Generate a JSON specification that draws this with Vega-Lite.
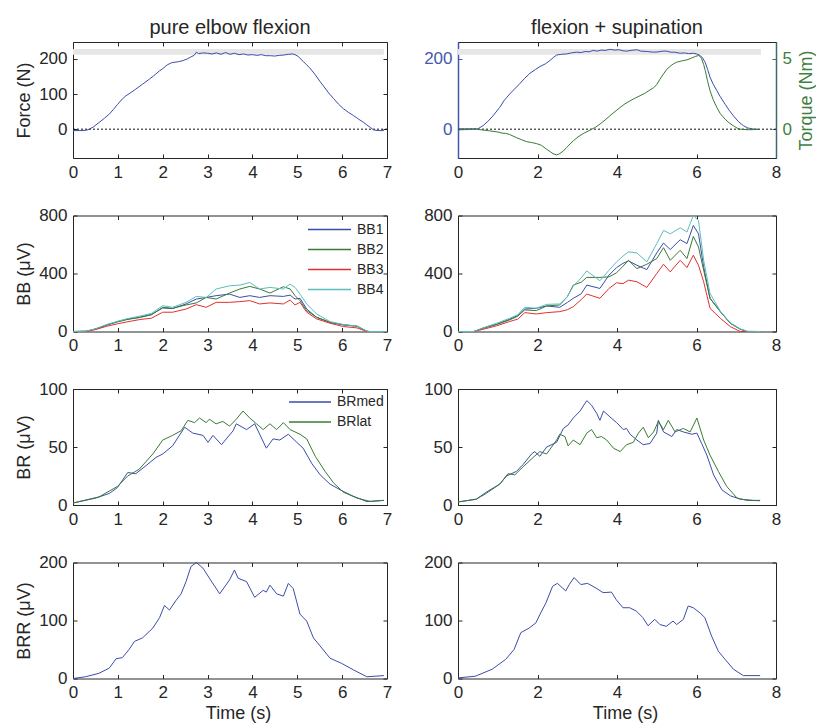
{
"$schema": "https://vega.github.io/schema/vega-lite/v6.json",
"background": "white",
"padding": {"left": 15, "top": 17, "right": 2, "bottom": 2},
"columns": 2,
"spacing": {"row": 57.5, "column": 71},
"bounds": "flush",
"resolve": {"scale": {"color": "independent"}, "legend": {"color": "independent"}},
"datasets": {
"bandL": [{"a": 0, "b": 6.93, "lo": 212, "hi": 228}],
"bandR": [{"a": 0, "b": 7.62, "lo": 212, "hi": 228}],
"fL": [{"t":0,"v":-4},{"t":0.2,"v":-4},{"t":0.3,"v":-3},{"t":0.36,"v":0},{"t":0.45,"v":6},{"t":0.58,"v":19},{"t":0.7,"v":31},{"t":0.81,"v":43},{"t":0.9,"v":56},{"t":0.99,"v":70},{"t":1.1,"v":86},{"t":1.18,"v":95},{"t":1.3,"v":105},{"t":1.4,"v":114},{"t":1.55,"v":128},{"t":1.7,"v":142},{"t":1.8,"v":152},{"t":1.93,"v":166},{"t":2.0,"v":172},{"t":2.1,"v":183},{"t":2.2,"v":189},{"t":2.35,"v":192},{"t":2.45,"v":195},{"t":2.55,"v":200},{"t":2.62,"v":205},{"t":2.7,"v":210},{"t":2.75,"v":219},{"t":2.8,"v":215},{"t":2.9,"v":217},{"t":3.0,"v":216},{"t":3.1,"v":214},{"t":3.2,"v":217},{"t":3.3,"v":213},{"t":3.4,"v":218},{"t":3.5,"v":213},{"t":3.6,"v":216},{"t":3.7,"v":212},{"t":3.8,"v":214},{"t":3.9,"v":211},{"t":4.0,"v":212},{"t":4.1,"v":210},{"t":4.2,"v":212},{"t":4.3,"v":209},{"t":4.4,"v":209},{"t":4.5,"v":208},{"t":4.6,"v":210},{"t":4.7,"v":211},{"t":4.8,"v":213},{"t":4.9,"v":214},{"t":4.95,"v":212},{"t":5.02,"v":207},{"t":5.13,"v":193},{"t":5.2,"v":184},{"t":5.28,"v":174},{"t":5.4,"v":155},{"t":5.51,"v":135},{"t":5.6,"v":120},{"t":5.7,"v":103},{"t":5.81,"v":87},{"t":5.92,"v":71},{"t":6.03,"v":58},{"t":6.15,"v":47},{"t":6.25,"v":39},{"t":6.35,"v":30},{"t":6.48,"v":19},{"t":6.55,"v":12},{"t":6.63,"v":5},{"t":6.7,"v":-2},{"t":6.8,"v":-4},{"t":6.93,"v":-4}],
"fR": [{"t":0,"v":1},{"t":0.3,"v":1},{"t":0.5,"v":1},{"t":0.63,"v":10},{"t":0.75,"v":22},{"t":0.88,"v":38},{"t":1.05,"v":62},{"t":1.15,"v":80},{"t":1.3,"v":100},{"t":1.42,"v":114},{"t":1.55,"v":129},{"t":1.68,"v":145},{"t":1.81,"v":159},{"t":1.95,"v":170},{"t":2.06,"v":178},{"t":2.2,"v":186},{"t":2.31,"v":195},{"t":2.4,"v":204},{"t":2.48,"v":211},{"t":2.6,"v":213},{"t":2.73,"v":214},{"t":2.85,"v":217},{"t":2.98,"v":219},{"t":3.1,"v":218},{"t":3.2,"v":221},{"t":3.3,"v":220},{"t":3.4,"v":224},{"t":3.5,"v":222},{"t":3.6,"v":225},{"t":3.7,"v":224},{"t":3.82,"v":227},{"t":3.95,"v":225},{"t":4.05,"v":226},{"t":4.15,"v":223},{"t":4.24,"v":222},{"t":4.35,"v":224},{"t":4.5,"v":226},{"t":4.6,"v":222},{"t":4.75,"v":221},{"t":4.92,"v":219},{"t":5.05,"v":220},{"t":5.15,"v":222},{"t":5.25,"v":222},{"t":5.35,"v":219},{"t":5.45,"v":219},{"t":5.59,"v":216},{"t":5.7,"v":217},{"t":5.8,"v":215},{"t":5.92,"v":216},{"t":6.0,"v":214},{"t":6.09,"v":210},{"t":6.15,"v":203},{"t":6.22,"v":190},{"t":6.28,"v":170},{"t":6.34,"v":148},{"t":6.42,"v":128},{"t":6.51,"v":110},{"t":6.6,"v":92},{"t":6.72,"v":71},{"t":6.82,"v":54},{"t":6.93,"v":38},{"t":7.05,"v":22},{"t":7.18,"v":10},{"t":7.28,"v":4},{"t":7.35,"v":2},{"t":7.45,"v":0},{"t":7.56,"v":0}],
"tq": [{"t":0,"q":-0.05},{"t":0.46,"q":0},{"t":0.8,"q":-0.12},{"t":1.0,"q":-0.2},{"t":1.13,"q":-0.29},{"t":1.2,"q":-0.3},{"t":1.3,"q":-0.38},{"t":1.47,"q":-0.6},{"t":1.6,"q":-0.75},{"t":1.72,"q":-0.88},{"t":1.85,"q":-0.95},{"t":1.97,"q":-1.02},{"t":2.1,"q":-1.15},{"t":2.23,"q":-1.43},{"t":2.32,"q":-1.6},{"t":2.39,"q":-1.74},{"t":2.48,"q":-1.83},{"t":2.56,"q":-1.74},{"t":2.65,"q":-1.55},{"t":2.73,"q":-1.31},{"t":2.82,"q":-1.05},{"t":2.9,"q":-0.83},{"t":3.02,"q":-0.55},{"t":3.15,"q":-0.31},{"t":3.32,"q":-0.07},{"t":3.45,"q":0.12},{"t":3.57,"q":0.36},{"t":3.7,"q":0.65},{"t":3.82,"q":0.95},{"t":3.95,"q":1.25},{"t":4.08,"q":1.55},{"t":4.2,"q":1.8},{"t":4.33,"q":2.02},{"t":4.45,"q":2.2},{"t":4.58,"q":2.38},{"t":4.7,"q":2.55},{"t":4.83,"q":2.79},{"t":4.92,"q":2.95},{"t":5.0,"q":3.17},{"t":5.08,"q":3.55},{"t":5.17,"q":3.93},{"t":5.25,"q":4.25},{"t":5.34,"q":4.48},{"t":5.42,"q":4.65},{"t":5.5,"q":4.76},{"t":5.62,"q":4.85},{"t":5.76,"q":4.93},{"t":5.87,"q":5.05},{"t":5.97,"q":5.17},{"t":6.05,"q":5.24},{"t":6.1,"q":5.15},{"t":6.13,"q":5.0},{"t":6.18,"q":4.6},{"t":6.22,"q":4.17},{"t":6.28,"q":3.4},{"t":6.34,"q":2.74},{"t":6.42,"q":2.1},{"t":6.51,"q":1.55},{"t":6.6,"q":1.1},{"t":6.72,"q":0.71},{"t":6.82,"q":0.45},{"t":6.93,"q":0.24},{"t":7.02,"q":0.08},{"t":7.1,"q":0},{"t":7.3,"q":-0.04},{"t":7.56,"q":-0.02}],
"bbL": [
{"t":0,"v":0,"s":"BB1"},{"t":0.3,"v":2,"s":"BB1"},{"t":0.51,"v":18,"s":"BB1"},{"t":0.75,"v":45,"s":"BB1"},{"t":0.99,"v":68,"s":"BB1"},{"t":1.2,"v":85,"s":"BB1"},{"t":1.48,"v":98,"s":"BB1"},{"t":1.75,"v":118,"s":"BB1"},{"t":2.0,"v":162,"s":"BB1"},{"t":2.22,"v":158,"s":"BB1"},{"t":2.52,"v":190,"s":"BB1"},{"t":2.75,"v":224,"s":"BB1"},{"t":2.97,"v":235,"s":"BB1"},{"t":3.19,"v":247,"s":"BB1"},{"t":3.49,"v":258,"s":"BB1"},{"t":3.72,"v":235,"s":"BB1"},{"t":3.94,"v":247,"s":"BB1"},{"t":4.16,"v":235,"s":"BB1"},{"t":4.39,"v":247,"s":"BB1"},{"t":4.69,"v":242,"s":"BB1"},{"t":4.84,"v":251,"s":"BB1"},{"t":4.95,"v":224,"s":"BB1"},{"t":5.06,"v":229,"s":"BB1"},{"t":5.21,"v":155,"s":"BB1"},{"t":5.43,"v":98,"s":"BB1"},{"t":5.73,"v":64,"s":"BB1"},{"t":6.03,"v":46,"s":"BB1"},{"t":6.33,"v":37,"s":"BB1"},{"t":6.55,"v":2,"s":"BB1"},{"t":6.6,"v":0,"s":"BB1"},{"t":7.0,"v":0,"s":"BB1"},
{"t":0,"v":0,"s":"BB2"},{"t":0.3,"v":2,"s":"BB2"},{"t":0.51,"v":18,"s":"BB2"},{"t":0.75,"v":44,"s":"BB2"},{"t":0.99,"v":66,"s":"BB2"},{"t":1.2,"v":82,"s":"BB2"},{"t":1.48,"v":96,"s":"BB2"},{"t":1.75,"v":115,"s":"BB2"},{"t":2.0,"v":167,"s":"BB2"},{"t":2.22,"v":160,"s":"BB2"},{"t":2.52,"v":183,"s":"BB2"},{"t":2.75,"v":197,"s":"BB2"},{"t":2.97,"v":235,"s":"BB2"},{"t":3.19,"v":224,"s":"BB2"},{"t":3.49,"v":265,"s":"BB2"},{"t":3.72,"v":293,"s":"BB2"},{"t":3.94,"v":311,"s":"BB2"},{"t":4.16,"v":293,"s":"BB2"},{"t":4.39,"v":265,"s":"BB2"},{"t":4.69,"v":309,"s":"BB2"},{"t":4.84,"v":293,"s":"BB2"},{"t":4.95,"v":247,"s":"BB2"},{"t":5.06,"v":213,"s":"BB2"},{"t":5.21,"v":144,"s":"BB2"},{"t":5.43,"v":98,"s":"BB2"},{"t":5.73,"v":62,"s":"BB2"},{"t":6.03,"v":45,"s":"BB2"},{"t":6.33,"v":36,"s":"BB2"},{"t":6.55,"v":2,"s":"BB2"},{"t":6.6,"v":0,"s":"BB2"},{"t":7.0,"v":0,"s":"BB2"},
{"t":0,"v":0,"s":"BB3"},{"t":0.3,"v":0,"s":"BB3"},{"t":0.51,"v":14,"s":"BB3"},{"t":0.75,"v":36,"s":"BB3"},{"t":0.99,"v":53,"s":"BB3"},{"t":1.2,"v":66,"s":"BB3"},{"t":1.48,"v":82,"s":"BB3"},{"t":1.75,"v":92,"s":"BB3"},{"t":2.0,"v":133,"s":"BB3"},{"t":2.22,"v":133,"s":"BB3"},{"t":2.52,"v":155,"s":"BB3"},{"t":2.75,"v":185,"s":"BB3"},{"t":2.97,"v":167,"s":"BB3"},{"t":3.19,"v":201,"s":"BB3"},{"t":3.49,"v":201,"s":"BB3"},{"t":3.72,"v":206,"s":"BB3"},{"t":3.94,"v":213,"s":"BB3"},{"t":4.16,"v":190,"s":"BB3"},{"t":4.39,"v":197,"s":"BB3"},{"t":4.69,"v":190,"s":"BB3"},{"t":4.84,"v":217,"s":"BB3"},{"t":4.95,"v":183,"s":"BB3"},{"t":5.06,"v":201,"s":"BB3"},{"t":5.21,"v":133,"s":"BB3"},{"t":5.43,"v":87,"s":"BB3"},{"t":5.73,"v":57,"s":"BB3"},{"t":6.03,"v":34,"s":"BB3"},{"t":6.33,"v":25,"s":"BB3"},{"t":6.55,"v":0,"s":"BB3"},{"t":6.6,"v":0,"s":"BB3"},{"t":7.0,"v":0,"s":"BB3"},
{"t":0,"v":0,"s":"BB4"},{"t":0.3,"v":2,"s":"BB4"},{"t":0.51,"v":20,"s":"BB4"},{"t":0.75,"v":48,"s":"BB4"},{"t":0.99,"v":70,"s":"BB4"},{"t":1.2,"v":88,"s":"BB4"},{"t":1.48,"v":105,"s":"BB4"},{"t":1.75,"v":125,"s":"BB4"},{"t":2.0,"v":178,"s":"BB4"},{"t":2.22,"v":167,"s":"BB4"},{"t":2.52,"v":201,"s":"BB4"},{"t":2.75,"v":242,"s":"BB4"},{"t":2.97,"v":235,"s":"BB4"},{"t":3.19,"v":293,"s":"BB4"},{"t":3.49,"v":315,"s":"BB4"},{"t":3.72,"v":320,"s":"BB4"},{"t":3.94,"v":338,"s":"BB4"},{"t":4.16,"v":293,"s":"BB4"},{"t":4.39,"v":304,"s":"BB4"},{"t":4.69,"v":293,"s":"BB4"},{"t":4.84,"v":327,"s":"BB4"},{"t":4.95,"v":304,"s":"BB4"},{"t":5.06,"v":258,"s":"BB4"},{"t":5.21,"v":190,"s":"BB4"},{"t":5.43,"v":121,"s":"BB4"},{"t":5.73,"v":68,"s":"BB4"},{"t":6.03,"v":48,"s":"BB4"},{"t":6.33,"v":38,"s":"BB4"},{"t":6.55,"v":3,"s":"BB4"},{"t":6.6,"v":0,"s":"BB4"},{"t":7.0,"v":0,"s":"BB4"}],
"bbR": [
{"t":0,"v":0,"s":"BB1"},{"t":0.4,"v":0,"s":"BB1"},{"t":0.63,"v":23,"s":"BB1"},{"t":0.97,"v":50,"s":"BB1"},{"t":1.3,"v":85,"s":"BB1"},{"t":1.5,"v":110,"s":"BB1"},{"t":1.68,"v":155,"s":"BB1"},{"t":1.97,"v":160,"s":"BB1"},{"t":2.23,"v":176,"s":"BB1"},{"t":2.56,"v":167,"s":"BB1"},{"t":2.75,"v":200,"s":"BB1"},{"t":2.9,"v":229,"s":"BB1"},{"t":3.1,"v":260,"s":"BB1"},{"t":3.24,"v":320,"s":"BB1"},{"t":3.57,"v":297,"s":"BB1"},{"t":3.8,"v":389,"s":"BB1"},{"t":3.99,"v":441,"s":"BB1"},{"t":4.15,"v":470,"s":"BB1"},{"t":4.29,"v":487,"s":"BB1"},{"t":4.5,"v":457,"s":"BB1"},{"t":4.75,"v":427,"s":"BB1"},{"t":5.0,"v":542,"s":"BB1"},{"t":5.17,"v":610,"s":"BB1"},{"t":5.34,"v":565,"s":"BB1"},{"t":5.59,"v":633,"s":"BB1"},{"t":5.76,"v":606,"s":"BB1"},{"t":5.92,"v":731,"s":"BB1"},{"t":6.05,"v":674,"s":"BB1"},{"t":6.18,"v":446,"s":"BB1"},{"t":6.34,"v":229,"s":"BB1"},{"t":6.6,"v":137,"s":"BB1"},{"t":6.85,"v":57,"s":"BB1"},{"t":7.1,"v":16,"s":"BB1"},{"t":7.27,"v":0,"s":"BB1"},{"t":7.6,"v":0,"s":"BB1"},
{"t":0,"v":0,"s":"BB2"},{"t":0.4,"v":0,"s":"BB2"},{"t":0.63,"v":23,"s":"BB2"},{"t":0.97,"v":48,"s":"BB2"},{"t":1.3,"v":80,"s":"BB2"},{"t":1.5,"v":105,"s":"BB2"},{"t":1.68,"v":149,"s":"BB2"},{"t":1.97,"v":144,"s":"BB2"},{"t":2.23,"v":176,"s":"BB2"},{"t":2.56,"v":183,"s":"BB2"},{"t":2.75,"v":240,"s":"BB2"},{"t":2.9,"v":320,"s":"BB2"},{"t":3.1,"v":340,"s":"BB2"},{"t":3.24,"v":373,"s":"BB2"},{"t":3.57,"v":373,"s":"BB2"},{"t":3.8,"v":377,"s":"BB2"},{"t":3.99,"v":405,"s":"BB2"},{"t":4.15,"v":450,"s":"BB2"},{"t":4.29,"v":491,"s":"BB2"},{"t":4.5,"v":434,"s":"BB2"},{"t":4.75,"v":464,"s":"BB2"},{"t":5.0,"v":503,"s":"BB2"},{"t":5.17,"v":578,"s":"BB2"},{"t":5.34,"v":491,"s":"BB2"},{"t":5.59,"v":560,"s":"BB2"},{"t":5.76,"v":503,"s":"BB2"},{"t":5.92,"v":656,"s":"BB2"},{"t":6.05,"v":583,"s":"BB2"},{"t":6.18,"v":423,"s":"BB2"},{"t":6.34,"v":229,"s":"BB2"},{"t":6.6,"v":137,"s":"BB2"},{"t":6.85,"v":57,"s":"BB2"},{"t":7.1,"v":16,"s":"BB2"},{"t":7.27,"v":0,"s":"BB2"},{"t":7.6,"v":0,"s":"BB2"},
{"t":0,"v":0,"s":"BB3"},{"t":0.4,"v":0,"s":"BB3"},{"t":0.63,"v":15,"s":"BB3"},{"t":0.97,"v":39,"s":"BB3"},{"t":1.3,"v":69,"s":"BB3"},{"t":1.5,"v":85,"s":"BB3"},{"t":1.68,"v":130,"s":"BB3"},{"t":1.97,"v":121,"s":"BB3"},{"t":2.23,"v":130,"s":"BB3"},{"t":2.56,"v":137,"s":"BB3"},{"t":2.75,"v":150,"s":"BB3"},{"t":2.9,"v":171,"s":"BB3"},{"t":3.1,"v":220,"s":"BB3"},{"t":3.24,"v":258,"s":"BB3"},{"t":3.57,"v":229,"s":"BB3"},{"t":3.8,"v":297,"s":"BB3"},{"t":3.99,"v":336,"s":"BB3"},{"t":4.15,"v":330,"s":"BB3"},{"t":4.29,"v":354,"s":"BB3"},{"t":4.5,"v":343,"s":"BB3"},{"t":4.75,"v":304,"s":"BB3"},{"t":5.0,"v":400,"s":"BB3"},{"t":5.17,"v":464,"s":"BB3"},{"t":5.34,"v":411,"s":"BB3"},{"t":5.59,"v":491,"s":"BB3"},{"t":5.76,"v":441,"s":"BB3"},{"t":5.92,"v":526,"s":"BB3"},{"t":6.05,"v":457,"s":"BB3"},{"t":6.18,"v":343,"s":"BB3"},{"t":6.34,"v":160,"s":"BB3"},{"t":6.6,"v":91,"s":"BB3"},{"t":6.85,"v":34,"s":"BB3"},{"t":7.1,"v":0,"s":"BB3"},{"t":7.27,"v":0,"s":"BB3"},{"t":7.6,"v":0,"s":"BB3"},
{"t":0,"v":0,"s":"BB4"},{"t":0.4,"v":0,"s":"BB4"},{"t":0.63,"v":25,"s":"BB4"},{"t":0.97,"v":57,"s":"BB4"},{"t":1.3,"v":91,"s":"BB4"},{"t":1.5,"v":115,"s":"BB4"},{"t":1.68,"v":167,"s":"BB4"},{"t":1.97,"v":160,"s":"BB4"},{"t":2.23,"v":187,"s":"BB4"},{"t":2.56,"v":190,"s":"BB4"},{"t":2.75,"v":240,"s":"BB4"},{"t":2.9,"v":313,"s":"BB4"},{"t":3.1,"v":370,"s":"BB4"},{"t":3.24,"v":418,"s":"BB4"},{"t":3.57,"v":350,"s":"BB4"},{"t":3.8,"v":423,"s":"BB4"},{"t":3.99,"v":480,"s":"BB4"},{"t":4.15,"v":520,"s":"BB4"},{"t":4.29,"v":549,"s":"BB4"},{"t":4.5,"v":542,"s":"BB4"},{"t":4.75,"v":480,"s":"BB4"},{"t":5.0,"v":606,"s":"BB4"},{"t":5.17,"v":697,"s":"BB4"},{"t":5.34,"v":674,"s":"BB4"},{"t":5.59,"v":715,"s":"BB4"},{"t":5.76,"v":686,"s":"BB4"},{"t":5.92,"v":800,"s":"BB4"},{"t":6.05,"v":766,"s":"BB4"},{"t":6.18,"v":491,"s":"BB4"},{"t":6.34,"v":263,"s":"BB4"},{"t":6.6,"v":140,"s":"BB4"},{"t":6.85,"v":60,"s":"BB4"},{"t":7.1,"v":18,"s":"BB4"},{"t":7.27,"v":2,"s":"BB4"},{"t":7.6,"v":0,"s":"BB4"}],
"brL": [
{"t":0,"v":1.7,"s":"BRmed"},{"t":0.51,"v":6,"s":"BRmed"},{"t":0.81,"v":10,"s":"BRmed"},{"t":0.99,"v":15,"s":"BRmed"},{"t":1.22,"v":28,"s":"BRmed"},{"t":1.4,"v":27,"s":"BRmed"},{"t":1.63,"v":34,"s":"BRmed"},{"t":1.85,"v":41,"s":"BRmed"},{"t":2.0,"v":44,"s":"BRmed"},{"t":2.22,"v":51,"s":"BRmed"},{"t":2.49,"v":67,"s":"BRmed"},{"t":2.67,"v":62,"s":"BRmed"},{"t":2.9,"v":60,"s":"BRmed"},{"t":3.01,"v":54,"s":"BRmed"},{"t":3.12,"v":60,"s":"BRmed"},{"t":3.31,"v":52,"s":"BRmed"},{"t":3.57,"v":64,"s":"BRmed"},{"t":3.64,"v":70,"s":"BRmed"},{"t":3.87,"v":65,"s":"BRmed"},{"t":4.05,"v":70,"s":"BRmed"},{"t":4.31,"v":49,"s":"BRmed"},{"t":4.46,"v":57,"s":"BRmed"},{"t":4.61,"v":56,"s":"BRmed"},{"t":4.8,"v":61,"s":"BRmed"},{"t":4.99,"v":54,"s":"BRmed"},{"t":5.13,"v":49,"s":"BRmed"},{"t":5.32,"v":36,"s":"BRmed"},{"t":5.51,"v":26,"s":"BRmed"},{"t":5.73,"v":18,"s":"BRmed"},{"t":5.96,"v":13,"s":"BRmed"},{"t":6.25,"v":7.5,"s":"BRmed"},{"t":6.55,"v":3,"s":"BRmed"},{"t":6.93,"v":4,"s":"BRmed"},
{"t":0,"v":1.7,"s":"BRlat"},{"t":0.58,"v":7,"s":"BRlat"},{"t":0.99,"v":16,"s":"BRlat"},{"t":1.22,"v":25,"s":"BRlat"},{"t":1.48,"v":31,"s":"BRlat"},{"t":1.78,"v":44,"s":"BRlat"},{"t":2.0,"v":56,"s":"BRlat"},{"t":2.22,"v":60,"s":"BRlat"},{"t":2.41,"v":64,"s":"BRlat"},{"t":2.56,"v":73,"s":"BRlat"},{"t":2.71,"v":71,"s":"BRlat"},{"t":2.82,"v":75,"s":"BRlat"},{"t":2.97,"v":71,"s":"BRlat"},{"t":3.04,"v":74,"s":"BRlat"},{"t":3.19,"v":70,"s":"BRlat"},{"t":3.34,"v":72,"s":"BRlat"},{"t":3.49,"v":68,"s":"BRlat"},{"t":3.64,"v":74,"s":"BRlat"},{"t":3.79,"v":81,"s":"BRlat"},{"t":3.94,"v":75,"s":"BRlat"},{"t":4.09,"v":70,"s":"BRlat"},{"t":4.24,"v":65,"s":"BRlat"},{"t":4.39,"v":70,"s":"BRlat"},{"t":4.54,"v":65,"s":"BRlat"},{"t":4.69,"v":71,"s":"BRlat"},{"t":4.84,"v":65,"s":"BRlat"},{"t":5.06,"v":61,"s":"BRlat"},{"t":5.21,"v":57,"s":"BRlat"},{"t":5.4,"v":42,"s":"BRlat"},{"t":5.62,"v":29,"s":"BRlat"},{"t":5.81,"v":19,"s":"BRlat"},{"t":6.03,"v":11,"s":"BRlat"},{"t":6.33,"v":6,"s":"BRlat"},{"t":6.63,"v":3,"s":"BRlat"},{"t":6.93,"v":4,"s":"BRlat"}],
"brR": [
{"t":0,"v":2.6,"s":"BRmed"},{"t":0.46,"v":5,"s":"BRmed"},{"t":0.71,"v":11,"s":"BRmed"},{"t":1.05,"v":18,"s":"BRmed"},{"t":1.22,"v":25,"s":"BRmed"},{"t":1.47,"v":29,"s":"BRmed"},{"t":1.64,"v":35,"s":"BRmed"},{"t":1.85,"v":44,"s":"BRmed"},{"t":1.93,"v":46,"s":"BRmed"},{"t":2.06,"v":42,"s":"BRmed"},{"t":2.23,"v":50,"s":"BRmed"},{"t":2.48,"v":54,"s":"BRmed"},{"t":2.65,"v":66,"s":"BRmed"},{"t":2.77,"v":69,"s":"BRmed"},{"t":2.9,"v":75,"s":"BRmed"},{"t":3.07,"v":81,"s":"BRmed"},{"t":3.24,"v":90,"s":"BRmed"},{"t":3.36,"v":86,"s":"BRmed"},{"t":3.49,"v":79,"s":"BRmed"},{"t":3.57,"v":73,"s":"BRmed"},{"t":3.66,"v":81,"s":"BRmed"},{"t":3.82,"v":76,"s":"BRmed"},{"t":3.99,"v":71,"s":"BRmed"},{"t":4.16,"v":65,"s":"BRmed"},{"t":4.24,"v":66,"s":"BRmed"},{"t":4.33,"v":61,"s":"BRmed"},{"t":4.5,"v":56,"s":"BRmed"},{"t":4.66,"v":52,"s":"BRmed"},{"t":4.83,"v":53,"s":"BRmed"},{"t":5.0,"v":62,"s":"BRmed"},{"t":5.04,"v":73,"s":"BRmed"},{"t":5.17,"v":63,"s":"BRmed"},{"t":5.38,"v":59,"s":"BRmed"},{"t":5.5,"v":65,"s":"BRmed"},{"t":5.67,"v":63,"s":"BRmed"},{"t":5.88,"v":61,"s":"BRmed"},{"t":6.01,"v":62,"s":"BRmed"},{"t":6.13,"v":53,"s":"BRmed"},{"t":6.26,"v":43,"s":"BRmed"},{"t":6.43,"v":26,"s":"BRmed"},{"t":6.64,"v":13,"s":"BRmed"},{"t":6.85,"v":8,"s":"BRmed"},{"t":7.1,"v":5,"s":"BRmed"},{"t":7.44,"v":4,"s":"BRmed"},{"t":7.6,"v":4,"s":"BRmed"},
{"t":0,"v":2.6,"s":"BRlat"},{"t":0.46,"v":5,"s":"BRlat"},{"t":0.71,"v":10,"s":"BRlat"},{"t":1.05,"v":18,"s":"BRlat"},{"t":1.26,"v":27,"s":"BRlat"},{"t":1.43,"v":26,"s":"BRlat"},{"t":1.64,"v":33,"s":"BRlat"},{"t":1.89,"v":41,"s":"BRlat"},{"t":2.06,"v":46,"s":"BRlat"},{"t":2.23,"v":44,"s":"BRlat"},{"t":2.48,"v":56,"s":"BRlat"},{"t":2.56,"v":61,"s":"BRlat"},{"t":2.69,"v":59,"s":"BRlat"},{"t":2.77,"v":51,"s":"BRlat"},{"t":2.9,"v":56,"s":"BRlat"},{"t":3.07,"v":52,"s":"BRlat"},{"t":3.24,"v":62,"s":"BRlat"},{"t":3.36,"v":65,"s":"BRlat"},{"t":3.49,"v":58,"s":"BRlat"},{"t":3.61,"v":59,"s":"BRlat"},{"t":3.74,"v":56,"s":"BRlat"},{"t":3.91,"v":49,"s":"BRlat"},{"t":4.08,"v":46,"s":"BRlat"},{"t":4.24,"v":52,"s":"BRlat"},{"t":4.41,"v":54,"s":"BRlat"},{"t":4.54,"v":62,"s":"BRlat"},{"t":4.66,"v":67,"s":"BRlat"},{"t":4.79,"v":58,"s":"BRlat"},{"t":4.92,"v":63,"s":"BRlat"},{"t":5.04,"v":72,"s":"BRlat"},{"t":5.17,"v":65,"s":"BRlat"},{"t":5.29,"v":73,"s":"BRlat"},{"t":5.46,"v":63,"s":"BRlat"},{"t":5.67,"v":66,"s":"BRlat"},{"t":5.84,"v":63,"s":"BRlat"},{"t":6.01,"v":75,"s":"BRlat"},{"t":6.18,"v":56,"s":"BRlat"},{"t":6.34,"v":43,"s":"BRlat"},{"t":6.55,"v":29,"s":"BRlat"},{"t":6.76,"v":16,"s":"BRlat"},{"t":7.02,"v":6,"s":"BRlat"},{"t":7.27,"v":4,"s":"BRlat"},{"t":7.6,"v":3.7,"s":"BRlat"}],
"brrL": [{"t":0,"v":0},{"t":0.28,"v":3},{"t":0.58,"v":9},{"t":0.81,"v":18},{"t":0.96,"v":34},{"t":1.1,"v":36},{"t":1.25,"v":50},{"t":1.37,"v":64},{"t":1.55,"v":70},{"t":1.78,"v":87},{"t":1.93,"v":105},{"t":2.04,"v":126},{"t":2.15,"v":118},{"t":2.3,"v":135},{"t":2.41,"v":146},{"t":2.52,"v":167},{"t":2.63,"v":193},{"t":2.75,"v":200},{"t":2.9,"v":190},{"t":3.04,"v":173},{"t":3.27,"v":146},{"t":3.49,"v":170},{"t":3.6,"v":187},{"t":3.68,"v":173},{"t":3.87,"v":167},{"t":4.05,"v":140},{"t":4.24,"v":152},{"t":4.31,"v":149},{"t":4.39,"v":161},{"t":4.54,"v":146},{"t":4.69,"v":142},{"t":4.8,"v":164},{"t":4.91,"v":155},{"t":5.06,"v":111},{"t":5.21,"v":99},{"t":5.36,"v":70},{"t":5.51,"v":56},{"t":5.73,"v":35},{"t":5.99,"v":26},{"t":6.25,"v":15},{"t":6.55,"v":3},{"t":6.93,"v":5}],
"brrR": [{"t":0,"v":1},{"t":0.44,"v":4},{"t":0.86,"v":16},{"t":1.2,"v":33},{"t":1.41,"v":50},{"t":1.58,"v":79},{"t":1.79,"v":87},{"t":1.96,"v":96},{"t":2.08,"v":113},{"t":2.21,"v":130},{"t":2.38,"v":159},{"t":2.5,"v":164},{"t":2.71,"v":151},{"t":2.8,"v":162},{"t":2.92,"v":174},{"t":3.09,"v":162},{"t":3.26,"v":164},{"t":3.47,"v":156},{"t":3.65,"v":148},{"t":3.86,"v":149},{"t":3.98,"v":136},{"t":4.15,"v":122},{"t":4.32,"v":122},{"t":4.49,"v":116},{"t":4.65,"v":105},{"t":4.78,"v":91},{"t":4.95,"v":102},{"t":5.08,"v":93},{"t":5.24,"v":90},{"t":5.41,"v":99},{"t":5.5,"v":93},{"t":5.67,"v":102},{"t":5.79,"v":125},{"t":5.92,"v":122},{"t":6.09,"v":113},{"t":6.21,"v":105},{"t":6.38,"v":73},{"t":6.55,"v":47},{"t":6.72,"v":33},{"t":6.93,"v":16},{"t":7.18,"v":5},{"t":7.6,"v":5}]
},
"concat": [
{
 "width": 314, "height": 116,
 "title": {"text": "pure elbow flexion"},
 "layer": [
  {"data": {"name": "bandL"}, "mark": {"type": "rect", "color": "#E6E6E6"},
   "encoding": {"x": {"field": "a", "type": "quantitative", "scale": {"domain": [0, 7], "nice": false}, "axis": null}, "x2": {"field": "b"},
    "y": {"field": "lo", "type": "quantitative", "scale": {"domain": [-82, 248], "nice": false}, "axis": null}, "y2": {"field": "hi"}}},
  {"data": {"values": [{}]}, "mark": {"type": "rule", "color": "#111111", "strokeDash": [2, 2], "strokeWidth": 1},
   "encoding": {"y": {"datum": 0, "type": "quantitative", "scale": {"domain": [-82, 248], "nice": false}, "axis": null}}},
  {"data": {"name": "fL"}, "mark": {"type": "line", "color": "#3A4DAA", "strokeWidth": 1},
   "encoding": {"x": {"field": "t", "type": "quantitative", "scale": {"domain": [0, 7], "nice": false}, "axis": {"values": [0,1,2,3,4,5,6,7], "title": null}},
    "y": {"field": "v", "type": "quantitative", "scale": {"domain": [-82, 248], "nice": false}, "axis": {"values": [0, 100, 200], "title": "Force (N)"}}}},
  {"data": {"values": [{}]}, "mark": {"type": "point", "opacity": 0},
   "encoding": {"x": {"datum": 0, "type": "quantitative", "scale": {"domain": [0, 7], "nice": false}, "axis": {"orient": "top", "values": [0,1,2,3,4,5,6,7], "labels": false, "title": null}},
    "y": {"datum": 0, "type": "quantitative", "scale": {"domain": [-82, 248], "nice": false}, "axis": {"orient": "right", "values": [0, 100, 200], "labels": false, "title": null}}}}
 ],
 "resolve": {"axis": {"x": "independent", "y": "independent"}}
},
{
 "width": 318, "height": 116,
 "title": {"text": "flexion + supination"},
 "layer": [
  {"data": {"name": "bandR"}, "mark": {"type": "rect", "color": "#E6E6E6"},
   "encoding": {"x": {"field": "a", "type": "quantitative", "scale": {"domain": [0, 8], "nice": false}, "axis": null}, "x2": {"field": "b"},
    "y": {"field": "lo", "type": "quantitative", "scale": {"domain": [-82, 248], "nice": false}, "axis": null}, "y2": {"field": "hi"}}},
  {"data": {"values": [{}]}, "mark": {"type": "rule", "color": "#111111", "strokeDash": [2, 2], "strokeWidth": 1},
   "encoding": {"y": {"datum": 0, "type": "quantitative", "scale": {"domain": [-82, 248], "nice": false}, "axis": null}}},
  {"data": {"name": "fR"}, "mark": {"type": "line", "color": "#3A4DAA", "strokeWidth": 1},
   "encoding": {"x": {"field": "t", "type": "quantitative", "scale": {"domain": [0, 8], "nice": false}, "axis": {"values": [0,2,4,6,8], "title": null}},
    "y": {"field": "v", "type": "quantitative", "scale": {"domain": [-82, 248], "nice": false},
     "axis": {"orient": "left", "values": [0, 200], "title": null, "labelColor": "#4657AE", "tickColor": "#4657AE", "domain": true, "domainColor": "#4657AE", "domainWidth": 1.5}}}},
  {"data": {"name": "tq"}, "mark": {"type": "line", "color": "#3A7A34", "strokeWidth": 1},
   "encoding": {"x": {"field": "t", "type": "quantitative", "scale": {"domain": [0, 8], "nice": false}, "axis": null},
    "y": {"field": "q", "type": "quantitative", "scale": {"domain": [-2.05, 6.2], "nice": false},
     "axis": {"orient": "right", "values": [0, 5], "title": "Torque (Nm)", "titleAngle": 270, "titleBaseline": "top", "titlePadding": 6, "labelColor": "#3F7F3F", "titleColor": "#3F7F3F", "tickColor": "#3F6A6A", "domain": true, "domainColor": "#3F6A6A", "domainWidth": 1.5}}}},
  {"data": {"values": [{}]}, "mark": {"type": "point", "opacity": 0},
   "encoding": {"x": {"datum": 0, "type": "quantitative", "scale": {"domain": [0, 8], "nice": false}, "axis": {"orient": "top", "values": [0,2,4,6,8], "labels": false, "title": null}}}}
 ],
 "resolve": {"scale": {"y": "independent"}, "axis": {"x": "independent", "y": "independent"}}
},
{
 "width": 314, "height": 116,
 "data": {"name": "bbL"},
 "layer": [
  {"mark": {"type": "line", "strokeWidth": 1},
   "encoding": {"x": {"field": "t", "type": "quantitative", "scale": {"domain": [0, 7], "nice": false}, "axis": {"values": [0,1,2,3,4,5,6,7], "title": null}},
    "y": {"field": "v", "type": "quantitative", "scale": {"domain": [0, 800], "nice": false}, "axis": {"values": [0, 400, 800], "title": "BB (μV)"}},
    "color": {"field": "s", "type": "nominal", "scale": {"domain": ["BB1","BB2","BB3","BB4"], "range": ["#3A4DAA","#3A7A34","#E03030","#5DBDBD"]},
     "legend": {"orient": "none", "legendX": 234, "legendY": 7, "title": null, "symbolType": "stroke", "symbolSize": 1849, "symbolStrokeWidth": 1.5, "clipHeight": 14, "rowPadding": 6, "labelFontSize": 14, "labelColor": "#262626", "labelOffset": 5, "padding": 0}}}},
  {"data": {"values": [{}]}, "mark": {"type": "point", "opacity": 0},
   "encoding": {"x": {"datum": 0, "type": "quantitative", "scale": {"domain": [0, 7], "nice": false}, "axis": {"orient": "top", "values": [0,1,2,3,4,5,6,7], "labels": false, "title": null}},
    "y": {"datum": 0, "type": "quantitative", "scale": {"domain": [0, 800], "nice": false}, "axis": {"orient": "right", "values": [0, 400, 800], "labels": false, "title": null}}}}
 ],
 "resolve": {"axis": {"x": "independent", "y": "independent"}}
},
{
 "width": 318, "height": 116,
 "data": {"name": "bbR"},
 "layer": [
  {"mark": {"type": "line", "strokeWidth": 1},
   "encoding": {"x": {"field": "t", "type": "quantitative", "scale": {"domain": [0, 8], "nice": false}, "axis": {"values": [0,2,4,6,8], "title": null}},
    "y": {"field": "v", "type": "quantitative", "scale": {"domain": [0, 800], "nice": false}, "axis": {"values": [0, 400, 800], "title": null}},
    "color": {"field": "s", "type": "nominal", "scale": {"domain": ["BB1","BB2","BB3","BB4"], "range": ["#3A4DAA","#3A7A34","#E03030","#5DBDBD"]}, "legend": null}}},
  {"data": {"values": [{}]}, "mark": {"type": "point", "opacity": 0},
   "encoding": {"x": {"datum": 0, "type": "quantitative", "scale": {"domain": [0, 8], "nice": false}, "axis": {"orient": "top", "values": [0,2,4,6,8], "labels": false, "title": null}},
    "y": {"datum": 0, "type": "quantitative", "scale": {"domain": [0, 800], "nice": false}, "axis": {"orient": "right", "values": [0, 400, 800], "labels": false, "title": null}}}}
 ],
 "resolve": {"axis": {"x": "independent", "y": "independent"}}
},
{
 "width": 314, "height": 116,
 "data": {"name": "brL"},
 "layer": [
  {"mark": {"type": "line", "strokeWidth": 1},
   "encoding": {"x": {"field": "t", "type": "quantitative", "scale": {"domain": [0, 7], "nice": false}, "axis": {"values": [0,1,2,3,4,5,6,7], "title": null}},
    "y": {"field": "v", "type": "quantitative", "scale": {"domain": [0, 100], "nice": false}, "axis": {"values": [0, 50, 100], "title": "BR (μV)"}},
    "color": {"field": "s", "type": "nominal", "scale": {"domain": ["BRmed","BRlat"], "range": ["#3A4DAA","#3A7A34"]},
     "legend": {"orient": "none", "legendX": 215, "legendY": 6, "title": null, "symbolType": "stroke", "symbolSize": 1764, "symbolStrokeWidth": 1.5, "clipHeight": 14, "rowPadding": 6, "labelFontSize": 14, "labelColor": "#262626", "labelOffset": 5, "padding": 0}}}},
  {"data": {"values": [{}]}, "mark": {"type": "point", "opacity": 0},
   "encoding": {"x": {"datum": 0, "type": "quantitative", "scale": {"domain": [0, 7], "nice": false}, "axis": {"orient": "top", "values": [0,1,2,3,4,5,6,7], "labels": false, "title": null}},
    "y": {"datum": 0, "type": "quantitative", "scale": {"domain": [0, 100], "nice": false}, "axis": {"orient": "right", "values": [0, 50, 100], "labels": false, "title": null}}}}
 ],
 "resolve": {"axis": {"x": "independent", "y": "independent"}}
},
{
 "width": 318, "height": 116,
 "data": {"name": "brR"},
 "layer": [
  {"mark": {"type": "line", "strokeWidth": 1},
   "encoding": {"x": {"field": "t", "type": "quantitative", "scale": {"domain": [0, 8], "nice": false}, "axis": {"values": [0,2,4,6,8], "title": null}},
    "y": {"field": "v", "type": "quantitative", "scale": {"domain": [0, 100], "nice": false}, "axis": {"values": [0, 50, 100], "title": null}},
    "color": {"field": "s", "type": "nominal", "scale": {"domain": ["BRmed","BRlat"], "range": ["#3A4DAA","#3A7A34"]}, "legend": null}}},
  {"data": {"values": [{}]}, "mark": {"type": "point", "opacity": 0},
   "encoding": {"x": {"datum": 0, "type": "quantitative", "scale": {"domain": [0, 8], "nice": false}, "axis": {"orient": "top", "values": [0,2,4,6,8], "labels": false, "title": null}},
    "y": {"datum": 0, "type": "quantitative", "scale": {"domain": [0, 100], "nice": false}, "axis": {"orient": "right", "values": [0, 50, 100], "labels": false, "title": null}}}}
 ],
 "resolve": {"axis": {"x": "independent", "y": "independent"}}
},
{
 "width": 314, "height": 116,
 "data": {"name": "brrL"},
 "layer": [
  {"mark": {"type": "line", "color": "#3A4DAA", "strokeWidth": 1},
   "encoding": {"x": {"field": "t", "type": "quantitative", "scale": {"domain": [0, 7], "nice": false}, "axis": {"values": [0,1,2,3,4,5,6,7], "title": "Time (s)", "titleX": 165}},
    "y": {"field": "v", "type": "quantitative", "scale": {"domain": [0, 200], "nice": false}, "axis": {"values": [0, 100, 200], "title": "BRR (μV)"}}}},
  {"data": {"values": [{}]}, "mark": {"type": "point", "opacity": 0},
   "encoding": {"x": {"datum": 0, "type": "quantitative", "scale": {"domain": [0, 7], "nice": false}, "axis": {"orient": "top", "values": [0,1,2,3,4,5,6,7], "labels": false, "title": null}},
    "y": {"datum": 0, "type": "quantitative", "scale": {"domain": [0, 200], "nice": false}, "axis": {"orient": "right", "values": [0, 100, 200], "labels": false, "title": null}}}}
 ],
 "resolve": {"axis": {"x": "independent", "y": "independent"}}
},
{
 "width": 318, "height": 116,
 "data": {"name": "brrR"},
 "layer": [
  {"mark": {"type": "line", "color": "#3A4DAA", "strokeWidth": 1},
   "encoding": {"x": {"field": "t", "type": "quantitative", "scale": {"domain": [0, 8], "nice": false}, "axis": {"values": [0,2,4,6,8], "title": "Time (s)", "titleX": 167}},
    "y": {"field": "v", "type": "quantitative", "scale": {"domain": [0, 200], "nice": false}, "axis": {"values": [0, 100, 200], "title": null}}}},
  {"data": {"values": [{}]}, "mark": {"type": "point", "opacity": 0},
   "encoding": {"x": {"datum": 0, "type": "quantitative", "scale": {"domain": [0, 8], "nice": false}, "axis": {"orient": "top", "values": [0,2,4,6,8], "labels": false, "title": null}},
    "y": {"datum": 0, "type": "quantitative", "scale": {"domain": [0, 200], "nice": false}, "axis": {"orient": "right", "values": [0, 100, 200], "labels": false, "title": null}}}}
 ],
 "resolve": {"axis": {"x": "independent", "y": "independent"}}
}
],
"config": {
 "font": "Liberation Sans",
 "view": {"stroke": "#262626", "strokeWidth": 1},
 "axis": {"grid": false, "domain": false, "tickSize": -4, "tickColor": "#262626", "tickWidth": 1, "labelFontSize": 17, "labelColor": "#262626", "labelPadding": 10, "labelFlush": false, "labelOverlap": false, "titleFontSize": 18, "titleFontWeight": "normal", "titleColor": "#262626", "titlePadding": 5},
 "axisX": {"titlePadding": 4},
 "title": {"fontSize": 20, "fontWeight": "normal", "color": "#262626", "anchor": "middle", "offset": 4, "baseline": "bottom"}
}
}
